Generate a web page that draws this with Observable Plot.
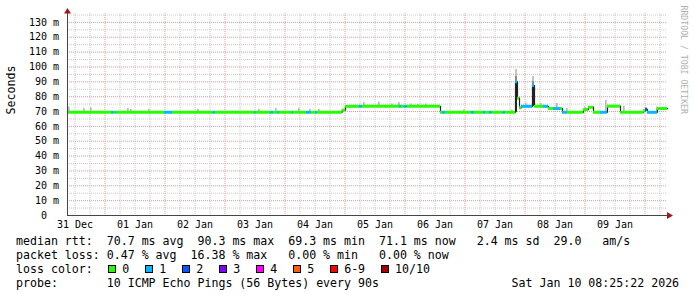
<!DOCTYPE html>
<html>
<head>
<meta charset="utf-8">
<script src="https://cdn.jsdelivr.net/npm/d3@7"></script>
<script src="https://cdn.jsdelivr.net/npm/@observablehq/plot@0.6"></script>
<style>
  html, body { margin: 0; padding: 0; background: #fff; }
  #legend { font-family: "DejaVu Sans Mono", monospace; font-size: 11.6px; line-height: 14px; white-space: pre; padding-left: 16px; margin-top: 2px; color: #000; }
  .row { height: 14px; display: flex; align-items: center; white-space: pre; }
  .sw { display: inline-block; width: 6px; height: 6px; border: 1px solid #000; margin-right: 6px; }
  .item { display: inline-flex; align-items: center; margin-right: 16px; }
</style>
</head>
<body>
<div id="chart"></div>
<div id="legend"></div>
<script>
// ---------- data ----------
const timeStart = "2025-12-31T09:00";
const timeEnd   = "2026-01-10T09:00";

// median RTT step changes (time, ms, lost pings out of 10)
const stepTimes = [
  "2025-12-31T09:00","2026-01-01T02:36","2026-01-01T03:36","2026-01-01T04:30","2026-01-01T04:54",
  "2026-01-01T23:48","2026-01-02T03:00","2026-01-02T19:12","2026-01-02T20:12","2026-01-03T11:48",
  "2026-01-03T12:24","2026-01-03T18:12","2026-01-03T19:24","2026-01-03T21:12","2026-01-03T21:48",
  "2026-01-04T02:54","2026-01-04T03:24","2026-01-04T08:36","2026-01-04T10:30","2026-01-04T12:12",
  "2026-01-04T12:54","2026-01-04T22:54","2026-01-05T00:12","2026-01-05T05:48","2026-01-05T06:54",
  "2026-01-05T21:48","2026-01-05T22:36","2026-01-05T23:48","2026-01-06T00:54","2026-01-06T14:12",
  "2026-01-06T15:00","2026-01-06T16:12","2026-01-07T02:36","2026-01-07T03:48","2026-01-07T07:24",
  "2026-01-07T08:12","2026-01-07T09:48","2026-01-07T10:54","2026-01-07T15:18","2026-01-07T16:12",
  "2026-01-07T20:12","2026-01-07T21:00","2026-01-07T21:48","2026-01-07T22:36","2026-01-08T03:00",
  "2026-01-08T03:48","2026-01-08T07:24","2026-01-08T09:24","2026-01-08T11:24","2026-01-08T14:12",
  "2026-01-08T15:00","2026-01-08T16:54","2026-01-08T23:24","2026-01-09T01:24","2026-01-09T03:24",
  "2026-01-09T06:12","2026-01-09T09:00","2026-01-09T14:12","2026-01-09T23:24","2026-01-10T00:12",
  "2026-01-10T01:00","2026-01-10T05:00","2026-01-10T09:00"
];
const stepRtt = [
  69.5,69.5,69.5,69.5,69.5,
  69.5,69.5,69.5,69.5,69.5,
  69.5,69.5,69.5,69.5,69.5,
  69.5,69.5,69.5,69.5,69.5,
  69.5,71,73.5,73.5,73.5,
  73.5,73.5,73.5,73.5,69.5,
  69.5,69.5,69.5,69.5,69.5,
  69.5,69.5,69.5,69.5,69.5,
  90,79,72.5,73.5,87.5,
  73.5,73.5,72,72,72,
  69.5,69.5,71.3,72.9,69.5,
  69.5,73.6,69.5,70.5,71.5,
  69.5,72,72
];
const stepLoss = [
  0,1,0,1,0,
  1,0,1,0,1,
  0,1,0,1,0,
  1,0,1,0,1,
  0,0,0,1,0,
  1,0,1,0,0,
  1,0,1,0,1,
  0,1,0,1,0,
  1,0,0,1,1,
  0,1,0,1,0,
  1,0,0,0,0,
  1,0,0,0,2,
  1,0,0
];

// light smoke blips above the median
const smokeTimes = [
  "2025-12-31T09:24","2025-12-31T15:24","2025-12-31T18:12","2026-01-01T09:00","2026-01-01T10:12",
  "2026-01-01T17:24","2026-01-02T13:00","2026-01-03T13:24","2026-01-03T20:12","2026-01-04T05:24",
  "2026-01-04T09:48","2026-01-04T13:24","2026-01-05T07:24","2026-01-05T13:24","2026-01-05T18:36",
  "2026-01-05T21:24","2026-01-06T02:12","2026-01-06T05:00","2026-01-06T08:12","2026-01-06T23:24",
  "2026-01-07T18:36","2026-01-08T00:12","2026-01-08T06:12","2026-01-08T12:36","2026-01-08T16:36",
  "2026-01-08T23:48","2026-01-09T08:12","2026-01-09T15:24","2026-01-10T00:12","2026-01-10T04:36"
];
const smokeLow = [
  69.5,69.5,69.5,69.5,69.5, 69.5,69.5,69.5,69.5,69.5, 69.5,69.5,73.5,73.5,73.5,
  73.5,73.5,73.5,73.5,69.5, 69.5,73.5,73.5,72,69.5, 71.3,69.5,69.5,71.5,69.5
];
const smokeHigh = [
  73,72,72.5,72,71.5, 71.5,71.5,71.5,72,72, 71.5,71.5,76,76.3,75,
  76,75,74.8,75,71, 71,75.6,75.5,75.4,72, 73,77.4,73.5,72.5,73
];

// dense smoke columns at the two spikes
const spikeStart = ["2026-01-07T20:12","2026-01-07T20:12","2026-01-07T20:12","2026-01-08T03:00","2026-01-08T03:00","2026-01-08T03:00"];
const spikeEnd   = ["2026-01-07T21:00","2026-01-07T21:00","2026-01-07T21:00","2026-01-08T03:48","2026-01-08T03:48","2026-01-08T03:48"];
const spikeLow   = [69.5, 90, 94, 73.5, 87.5, 90.5];
const spikeHigh  = [90, 94, 98.3, 87.5, 90.5, 93.6];
const spikeShade = ["dense","mid","light","dense","mid","light"];

// loss colour legend
const lossLabels = ["0","1","2","3","4","5","6-9","10/10"];
const lossColors = ["#26ff00","#00b8ff","#0059ff","#7e00ff","#ff00ff","#ff5e00","#ff0000","#a10000"];

// ticks
const yTicks = [0,10,20,30,40,50,60,70,80,90,100,110,120,130];
const yTickLabels = ["0\u00a0\u00a0","10\u00a0m","20\u00a0m","30\u00a0m","40\u00a0m","50\u00a0m","60\u00a0m","70\u00a0m","80\u00a0m","90\u00a0m","100\u00a0m","110\u00a0m","120\u00a0m","130\u00a0m"];
const yMinor = [5,15,25,35,45,55,65,75,85,95,105,115,125,135];
const xTickTimes = ["2025-12-31T12:00","2026-01-01T12:00","2026-01-02T12:00","2026-01-03T12:00","2026-01-04T12:00",
                    "2026-01-05T12:00","2026-01-06T12:00","2026-01-07T12:00","2026-01-08T12:00","2026-01-09T12:00"];
const xTickLabels = ["31 Dec","01 Jan","02 Jan","03 Jan","04 Jan","05 Jan","06 Jan","07 Jan","08 Jan","09 Jan"];

// legend text
const legendLine1 = "median rtt:  70.7 ms avg  90.3 ms max  69.3 ms min  71.1 ms now   2.4 ms sd  29.0   am/s";
const legendLine2 = "packet loss: 0.47 % avg  16.38 % max   0.00 % min   0.00 % now";
const legendLine3 = "loss color:  ";
const legendProbe = "probe:       10 ICMP Echo Pings (56 Bytes) every 90s";
const legendDate  = "Sat Jan 10 08:25:22 2026";

// ---------- build ----------
const parse = d3.utcParse("%Y-%m-%dT%H:%M");
const t0 = parse(timeStart), t1 = parse(timeEnd);
const lossColor = (l) => lossColors[l >= 10 ? 7 : l >= 6 ? 6 : l];

const steps = stepTimes.map((t, i) => ({t: parse(t), rtt: stepRtt[i], loss: stepLoss[i]}));
const segs = steps.slice(0, -1).map((d, i) => ({...d, t2: steps[i + 1].t, color: lossColor(d.loss)}));
const blips = smokeTimes.map((t, i) => ({t: parse(t), t2: d3.utcMinute.offset(parse(t), 40), low: smokeLow[i], high: smokeHigh[i]}));
const shadeColor = {dense: "#222222", mid: "#8a8a8a", light: "#c4c4c4"};
const spikes = spikeStart.map((t, i) => ({t: parse(t), t2: parse(spikeEnd[i]), low: spikeLow[i], high: spikeHigh[i], fill: shadeColor[spikeShade[i]]}));

const midnights = d3.utcDay.range(d3.utcDay.ceil(t0), t1);
const sixHours = d3.utcHour.every(6).range(t0, t1).filter(d => d.getUTCHours() !== 0);
const xTicks = xTickTimes.map(parse);

const mono = "'DejaVu Sans Mono', monospace";

const arrows = (index, scales, values, dims) => {
  const g = d3.create("svg:g").attr("fill", "#a01818");
  const L = dims.marginLeft + 0.5, T = dims.marginTop;
  const R = dims.width - dims.marginRight, B = dims.height - dims.marginBottom + 0.5;
  g.append("path").attr("d", `M${L - 3.5},${T + 0.5}L${L},${T - 5}L${L + 3.5},${T + 0.5}Z`);
  g.append("path").attr("d", `M${R},${B - 3.5}L${R + 6},${B}L${R},${B + 3.5}Z`);
  return g.node();
};

const chart = Plot.plot({
  width: 697,
  height: 232,
  marginLeft: 67,
  marginRight: 30,
  marginTop: 13,
  marginBottom: 17,
  style: {fontFamily: mono, fontSize: "10px", color: "#000", background: "#fff", overflow: "visible"},
  x: {type: "utc", domain: [t0, t1]},
  y: {domain: [0, 136]},
  marks: [
    Plot.ruleY(yMinor, {stroke: "#c8c8c8", strokeDasharray: "1,1"}),
    Plot.ruleX(sixHours, {stroke: "#c8c8c8", strokeDasharray: "1,1"}),
    Plot.ruleY(yTicks.filter(d => d > 0), {stroke: "#e49a9a", strokeDasharray: "1,1"}),
    Plot.ruleX(midnights, {stroke: "#e49a9a", strokeDasharray: "1,1"}),
    Plot.rect(blips, {x1: "t", x2: "t2", y1: "low", y2: "high", fill: "#b8b8b8"}),
    Plot.rect(spikes, {x1: "t", x2: "t2", y1: "low", y2: "high", fill: "fill"}),
    Plot.line(steps, {x: "t", y: "rtt", curve: "step-after", stroke: "#222", strokeWidth: 1.2}),
    Plot.ruleY(segs, {y: "rtt", x1: "t", x2: "t2", stroke: "color", strokeWidth: 3}),
    Plot.ruleY([0], {stroke: "#444"}),
    Plot.ruleX([t0], {stroke: "#444"}),
    arrows,
    Plot.axisY({ticks: yTicks, tickFormat: (d) => yTickLabels[yTicks.indexOf(d)], tickSize: 0, tickPadding: 8.5, label: null, fontSize: 10, fontFamily: mono}),
    Plot.axisX({ticks: xTicks, tickFormat: (d) => xTickLabels[xTicks.findIndex(e => +e === +d)], tickSize: 0, tickPadding: 5, label: null, fontSize: 10, fontFamily: mono}),
    Plot.text(["Seconds"], {frameAnchor: "left", rotate: -90, dx: -56, fontSize: 11.6, fontFamily: mono, fill: "#000"}),
    Plot.text(["RRDTOOL / TOBI OETIKER"], {frameAnchor: "top-right", rotate: 90, textAnchor: "start", dx: 19.5, dy: -8, fontSize: 8.2, fontFamily: mono, fill: "#b0b0b0"})
  ]
});
document.getElementById("chart").append(chart);

// legend below
const legend = document.getElementById("legend");
function addRow(text) {
  const r = document.createElement("div");
  r.className = "row";
  r.textContent = text;
  legend.append(r);
  return r;
}
addRow(legendLine1);
addRow(legendLine2);
const r3 = addRow(legendLine3);
lossLabels.forEach((lab, i) => {
  const item = document.createElement("span");
  item.className = "item";
  if (i === 0) item.style.marginLeft = "1.5px";
  const sw = document.createElement("span");
  sw.className = "sw";
  sw.style.background = lossColors[i];
  item.append(sw, document.createTextNode(lab));
  r3.append(item);
});
const pad = " ".repeat(Math.max(1, 71 - legendProbe.length));
addRow(legendProbe + pad + legendDate);
</script>
</body>
</html>
